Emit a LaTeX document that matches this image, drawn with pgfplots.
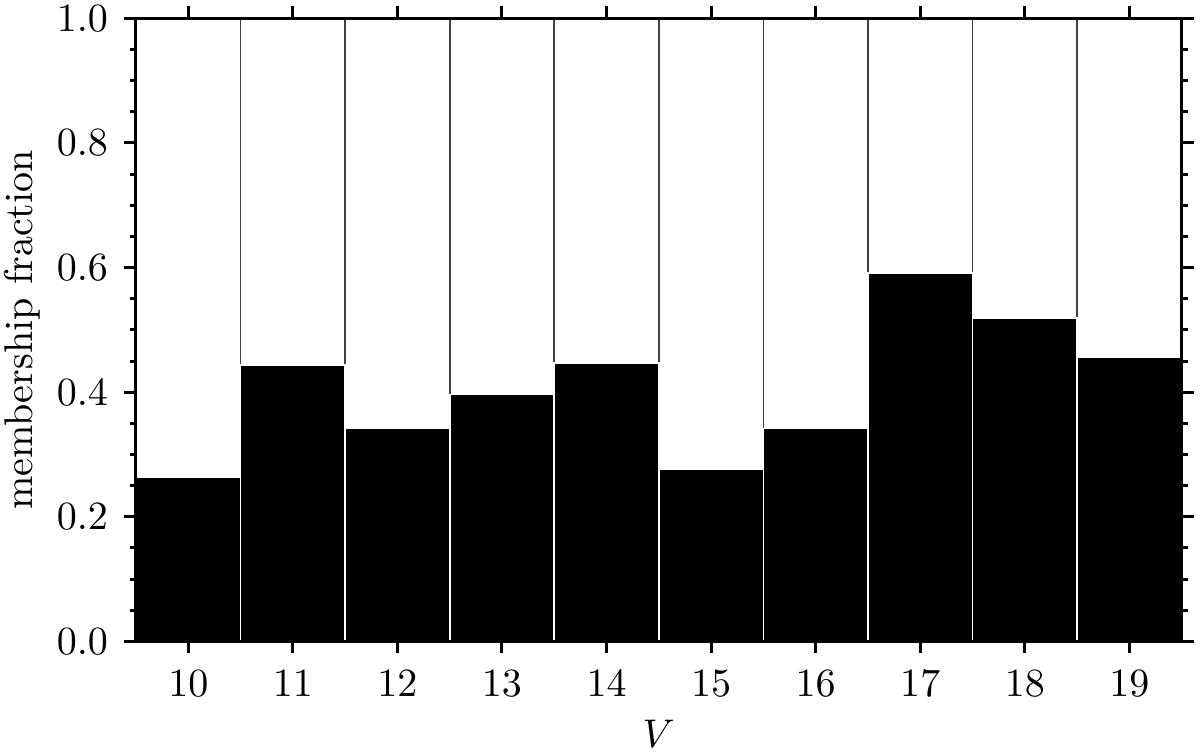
\documentclass[border={1pt 1.2pt 1.2pt 1.2pt}]{standalone}
\usepackage{pgfplots}
\pgfplotsset{compat=1.18}

\begin{document}
\begin{tikzpicture}
\begin{axis}[
  scale only axis, width=9.18cm, height=5.47cm,
  xmin=9.5, xmax=19.5, ymin=0, ymax=1,
  xtick={10,...,19}, ytick={0,0.2,...,1},
  minor y tick num=3,
  tick align=outside,
  major tick length=3pt, minor tick length=1.5pt,
  every tick/.style={black, line width=0.75pt},
  axis line style={line width=0.75pt},
  xtick pos=both, xticklabel pos=lower,
  ytick pos=both, yticklabel pos=left,
  yticklabel style={inner sep=0pt, xshift=-3.8pt,
    /pgf/number format/.cd, fixed, fixed zerofill, precision=1},
  xticklabel style={inner sep=0pt, yshift=-4.2pt},
  xlabel={$V$}, ylabel={membership fraction},
  xlabel style={inner sep=0pt}, xlabel shift=5.5pt,
  ylabel style={inner sep=0pt}, ylabel shift=4pt,
  axis on top]
\addplot[ybar, bar width=1, bar shift=0pt, fill=white, draw=black!75, line width=0.4pt]
  coordinates {(10,1) (11,1) (12,1) (13,1) (14,1) (15,1) (16,1) (17,1) (18,1) (19,1)};
\addplot[ybar, bar width=1, bar shift=0pt, fill=black, draw=white, line width=0.4pt]
  coordinates {
  (10,0.264) (11,0.444) (12,0.342) (13,0.396) (14,0.447)
  (15,0.276) (16,0.342) (17,0.591) (18,0.519) (19,0.456)};
\end{axis}
\end{tikzpicture}
\end{document}
